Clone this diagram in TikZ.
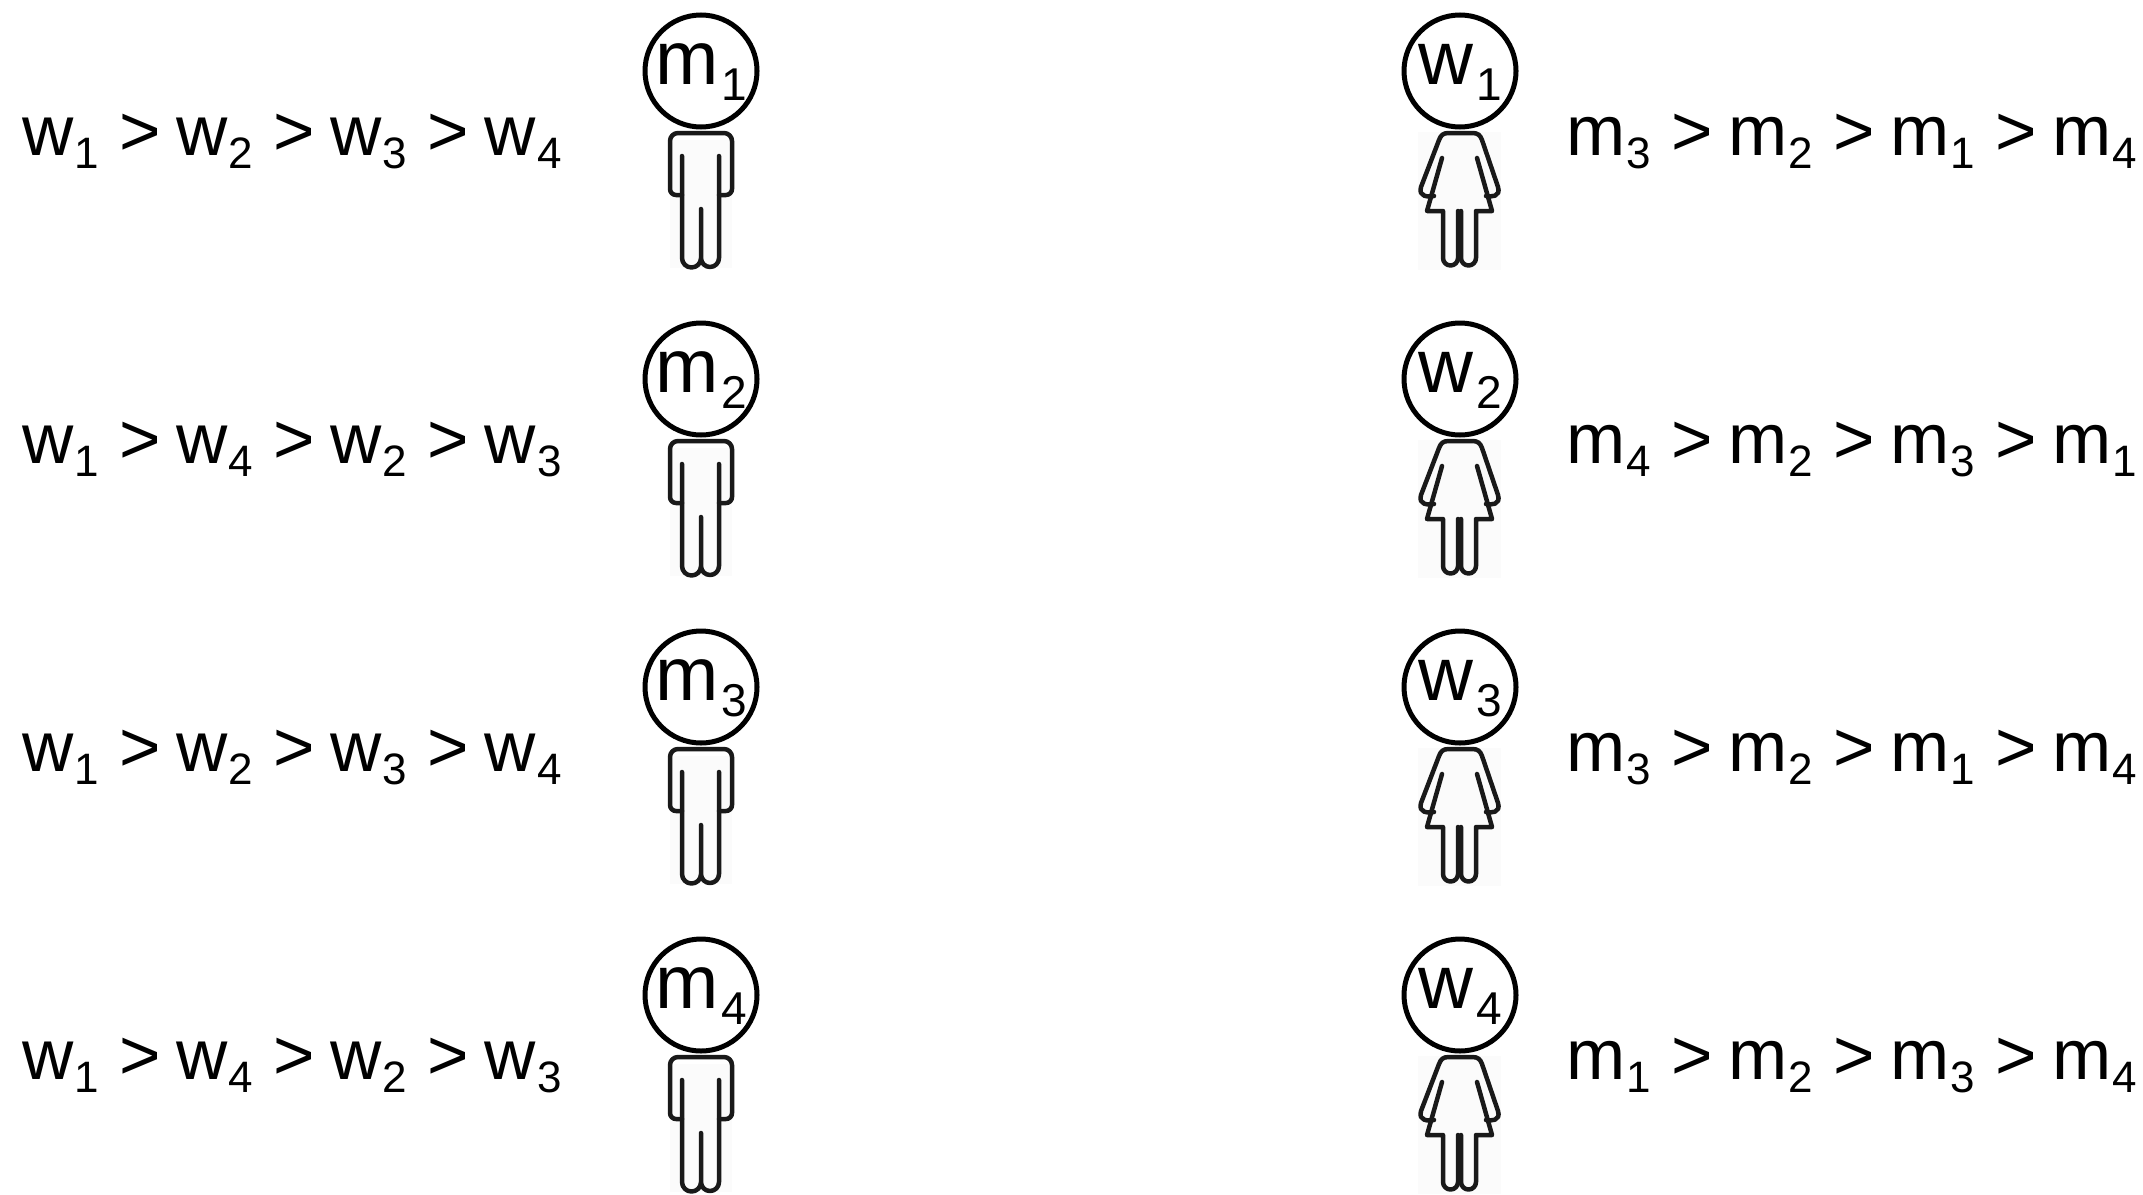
\documentclass[tikz,border=0pt]{standalone}
\usepackage{fontspec}
\setmainfont{Liberation Sans}
\newcommand{\Sbt}[1]{\kern1pt\raisebox{-13pt}{\fontsize{44}{44}\selectfont #1}}
\newcommand{\Gtt}{\hspace{20.5pt}>\hspace{15.5pt}}
\newcommand{\Pw}[1]{w\Sbt{#1}}
\newcommand{\Pm}[1]{m\Sbt{#1}}
\newcommand{\Hsb}[1]{\kern3pt\raisebox{-16pt}{\fontsize{46}{46}\selectfont #1}}
\tikzset{
  x=1pt,y=-1pt,
  pref/.style={anchor=base west,inner sep=0pt,font=\fontsize{71}{71}\selectfont},
  head/.style={circle,draw=black,line width=5pt,inner sep=0pt,minimum size=112pt,
    text height=41pt,text depth=14pt,font=\fontsize{76}{76}\selectfont},
  figline/.style={draw=black!90,line width=4.5pt,line join=round,line cap=round},
  halo/.style={fill=black!1.5,draw=none},
}
\begin{document}
\begin{tikzpicture}
\useasboundingbox (0,0) rectangle (2143,1194);
\fill[white] (0,0) rectangle (2143,1194);
\foreach \i/\a/\b/\c/\d/\p/\q/\r/\s in {0/1/2/3/4/3/2/1/4,1/1/4/2/3/4/2/3/1,2/1/2/3/4/3/2/1/4,3/1/4/2/3/1/2/3/4}{
  \begin{scope}[yshift=-\i*308pt]
    \pgfmathtruncatemacro{\n}{\i+1}
    \node[pref] (lm\n) at (22,155) {\Pw{\a}\Gtt\Pw{\b}\Gtt\Pw{\c}\Gtt\Pw{\d}};
    \node[pref] (rw\n) at (1566,155) {\Pm{\p}\Gtt\Pm{\q}\Gtt\Pm{\r}\Gtt\Pm{\s}};
    % man
    \fill[halo] (670,140) rectangle (732,268);
    \node[head] (m\n) at (701,71) {m\Hsb{\n}};
    \draw[figline] (682,156) -- (682,258) arc[start angle=180,end angle=0,radius=9.5] -- (701,209)
       (701,258) arc[start angle=180,end angle=0,radius=9] -- (719,156);
    \draw[figline] (682,195) -- (676,195) arc[start angle=90,end angle=180,radius=6] -- (670,141)
       arc[start angle=180,end angle=270,radius=8] -- (724,133)
       arc[start angle=-90,end angle=0,radius=8] -- (732,189)
       arc[start angle=0,end angle=90,radius=6] -- (719,195);
    % woman
    \fill[halo] (1418,132) rectangle (1501,270);
    \node[head] (w\n) at (1460,71) {w\Hsb{\n}};
    \draw[figline] (1442,158) -- (1427,211) -- (1443,211) -- (1443,258)
       arc[start angle=180,end angle=0,radius=7.5] -- (1458,211);
    \draw[figline] (1461,211) -- (1461,258) arc[start angle=180,end angle=0,radius=7.5] -- (1476,211) -- (1492,211) -- (1477,158);
    \draw[figline] (1434,196) .. controls (1428,197) and (1418,197) .. (1421,187)
       -- (1439,140) .. controls (1441,135) and (1443,133) .. (1449,133)
       -- (1472,133) .. controls (1478,133) and (1480,135) .. (1482,140)
       -- (1498,187) .. controls (1501,197) and (1491,197) .. (1486,196);
  \end{scope}
}
\end{tikzpicture}
\end{document}
